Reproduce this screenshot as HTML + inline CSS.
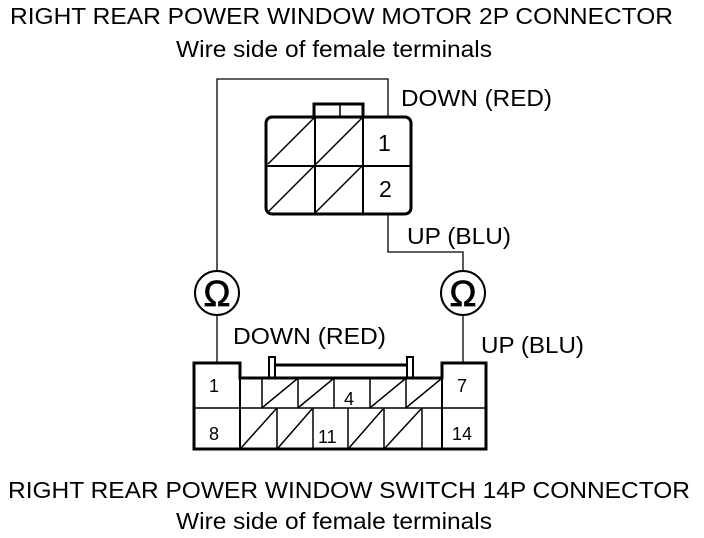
<!DOCTYPE html>
<html><head><style>html,body{margin:0;padding:0;background:#fff}svg{display:block}</style></head>
<body>
<svg width="704" height="538" viewBox="0 0 704 538" xmlns="http://www.w3.org/2000/svg" font-family="Liberation Sans, sans-serif" fill="#000">
<g font-size="23">
<text x="10" y="24" textLength="663" lengthAdjust="spacingAndGlyphs">RIGHT REAR POWER WINDOW MOTOR 2P CONNECTOR</text>
<text x="176" y="57" textLength="316" lengthAdjust="spacingAndGlyphs">Wire side of female terminals</text>
<text x="8" y="498" textLength="682" lengthAdjust="spacingAndGlyphs">RIGHT REAR POWER WINDOW SWITCH 14P CONNECTOR</text>
<text x="176" y="529" textLength="316" lengthAdjust="spacingAndGlyphs">Wire side of female terminals</text>
<text x="401" y="106" textLength="151" lengthAdjust="spacingAndGlyphs">DOWN (RED)</text>
<text x="407" y="244" textLength="104" lengthAdjust="spacingAndGlyphs">UP (BLU)</text>
<text x="233" y="344" textLength="153" lengthAdjust="spacingAndGlyphs">DOWN (RED)</text>
<text x="481" y="353" textLength="103" lengthAdjust="spacingAndGlyphs">UP (BLU)</text>
</g>
<g fill="none" stroke="#000">
<polyline points="217,271 217,79 388,79 388,117" stroke-width="1.3"/>
<polyline points="388,214 388,252 463,252 463,271" stroke-width="1.3"/>
<line x1="217" y1="315" x2="217" y2="363" stroke-width="1.3"/>
<line x1="463" y1="315" x2="463" y2="363" stroke-width="1.3"/>
<circle cx="217" cy="293" r="22" stroke-width="2"/>
<circle cx="463" cy="293" r="22" stroke-width="2"/>
<rect x="314" y="104" width="49" height="13" stroke-width="3"/>
<line x1="340" y1="104" x2="340" y2="117" stroke-width="1.5"/>
<rect x="266" y="117" width="145" height="97" rx="6" stroke-width="3"/>
<line x1="315" y1="117" x2="315" y2="214" stroke-width="2"/>
<line x1="363" y1="117" x2="363" y2="214" stroke-width="2"/>
<line x1="266" y1="166" x2="411" y2="166" stroke-width="2"/>
<g stroke-width="1.5">
<line x1="268" y1="164" x2="314" y2="118"/>
<line x1="316" y1="164" x2="362" y2="118"/>
<line x1="268" y1="212" x2="314" y2="166"/>
<line x1="316" y1="212" x2="362" y2="166"/>
</g>
<polygon points="194,363 240,363 240,378 442,378 442,363 486,363 486,449 194,449" stroke-width="3"/>
<rect x="269" y="357" width="6" height="21" stroke-width="2"/>
<rect x="407" y="357" width="6" height="21" stroke-width="2"/>
<line x1="275" y1="365" x2="407" y2="365" stroke-width="3"/>
<line x1="240" y1="378" x2="240" y2="449" stroke-width="2"/>
<line x1="442" y1="378" x2="442" y2="449" stroke-width="2"/>
<line x1="194" y1="408" x2="486" y2="408" stroke-width="1.5"/>
<g stroke-width="1.5">
<line x1="262" y1="378" x2="262" y2="408"/>
<line x1="298" y1="378" x2="298" y2="408"/>
<line x1="334" y1="378" x2="334" y2="408"/>
<line x1="370" y1="378" x2="370" y2="408"/>
<line x1="406" y1="378" x2="406" y2="408"/>
<line x1="277" y1="408" x2="277" y2="449"/>
<line x1="313" y1="408" x2="313" y2="449"/>
<line x1="348" y1="408" x2="348" y2="449"/>
<line x1="384" y1="408" x2="384" y2="449"/>
<line x1="422" y1="408" x2="422" y2="449"/>
<line x1="263" y1="407" x2="297" y2="379"/>
<line x1="299" y1="407" x2="333" y2="379"/>
<line x1="371" y1="407" x2="405" y2="379"/>
<line x1="407" y1="407" x2="441" y2="379"/>
<line x1="241" y1="448" x2="276" y2="409"/>
<line x1="278" y1="448" x2="312" y2="409"/>
<line x1="349" y1="448" x2="383" y2="409"/>
<line x1="385" y1="448" x2="421" y2="409"/>
</g>
</g>
<g font-size="23">
<text x="378" y="151">1</text>
<text x="379" y="197">2</text>
</g>
<g font-size="18">
<text x="209" y="392">1</text>
<text x="457" y="392">7</text>
<text x="344" y="405">4</text>
<text x="209" y="440">8</text>
<text x="318" y="443">11</text>
<text x="452" y="440">14</text>
</g>
<text x="217" y="306" font-size="36" text-anchor="middle" stroke="#000" stroke-width="0.8">Ω</text>
<text x="463" y="306" font-size="36" text-anchor="middle" stroke="#000" stroke-width="0.8">Ω</text>
</svg>
</body></html>
